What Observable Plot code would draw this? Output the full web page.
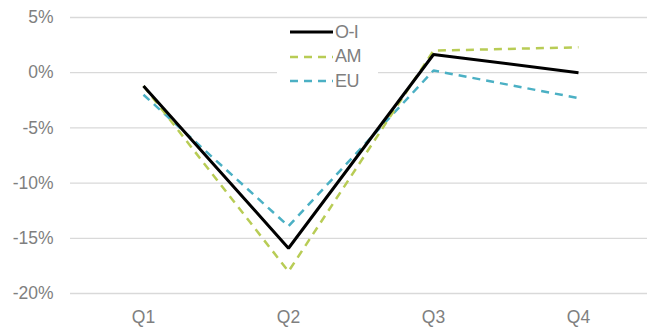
<!DOCTYPE html>
<html>
<head>
<meta charset="utf-8">
<script src="https://cdn.jsdelivr.net/npm/d3@7"></script>
<script src="https://cdn.jsdelivr.net/npm/@observablehq/plot@0.6"></script>
<style>
  html, body { margin: 0; padding: 0; background: #fff; }
  #wrap { position: relative; width: 647px; height: 329px; overflow: hidden; }
  #legend { position: absolute; left: 277px; top: 20px; width: 101px; height: 72px; background: #fff;
    font-family: "Liberation Sans", Arial, sans-serif; font-size: 18px; color: #7f7f7f; }
  #legend .row { position: absolute; left: 13px; height: 22px; display: flex; align-items: center; }
  #legend svg { display: block; }
  #legend span { margin-left: 2px; letter-spacing: -0.6px; }
</style>
</head>
<body>
<div id="wrap"><div id="chart"></div><div id="legend"></div></div>
<script>
const quarters = ["Q1", "Q2", "Q3", "Q4"];
const seriesNames = ["O-I", "AM", "EU"];
const oiValues = [-1.2, -15.9, 1.65, 0.0];
const amValues = [-1.2, -18.0, 2.0, 2.3];
const euValues = [-2.0, -13.9, 0.2, -2.3];
const yTicks = [-20, -15, -10, -5, 0, 5];

const seriesValues = [oiValues, amValues, euValues];
const colors = ["#000000", "#b8cc55", "#4bb0c4"];
const dashes = [null, "8,6", "8,6"];
const widths = [3, 2.5, 2.5];

const data = [];
seriesNames.forEach((s, i) => quarters.forEach((q, j) => data.push({series: s, quarter: q, value: seriesValues[i][j]})));

const font = "'Liberation Sans', Arial, sans-serif";

const chart = Plot.plot({
  width: 647,
  height: 329,
  marginLeft: 70,
  marginRight: 0,
  marginTop: 17,
  marginBottom: 36,
  style: {fontFamily: font, fontSize: "17.5px", color: "#7f7f7f", background: "#fff"},
  x: {type: "point", domain: quarters, range: [70, 650], label: null},
  y: {domain: [-20, 5], range: [293, 17], label: null},
  marks: [
    Plot.ruleY(yTicks, {stroke: "#d9d9d9", strokeWidth: 1.3}),
    Plot.axisY({ticks: yTicks, tickSize: 0, tickPadding: 17, tickFormat: d => d + "%", fill: "#7f7f7f", letterSpacing: "-0.6px"}),
    Plot.axisX({tickSize: 0, tickPadding: 17, fill: "#7f7f7f"}),
    ...[2, 1, 0].map(i => Plot.line(data.filter(d => d.series === seriesNames[i]), {
      x: "quarter", y: "value",
      stroke: colors[i], strokeWidth: widths[i], strokeDasharray: dashes[i],
      strokeLinejoin: "miter", strokeLinecap: "butt"
    }))
  ]
});
document.getElementById("chart").appendChild(chart);

const legend = document.getElementById("legend");
seriesNames.forEach((s, i) => {
  const row = document.createElement("div");
  row.className = "row";
  row.style.top = (1 + i * 24.5) + "px";
  row.innerHTML = `<svg width="43" height="6"><line x1="0" y1="3" x2="43" y2="3" stroke="${colors[i]}" stroke-width="${widths[i]}" ${dashes[i] ? `stroke-dasharray="${dashes[i]}"` : ""}/></svg><span>${s}</span>`;
  legend.appendChild(row);
});
</script>
</body>
</html>
